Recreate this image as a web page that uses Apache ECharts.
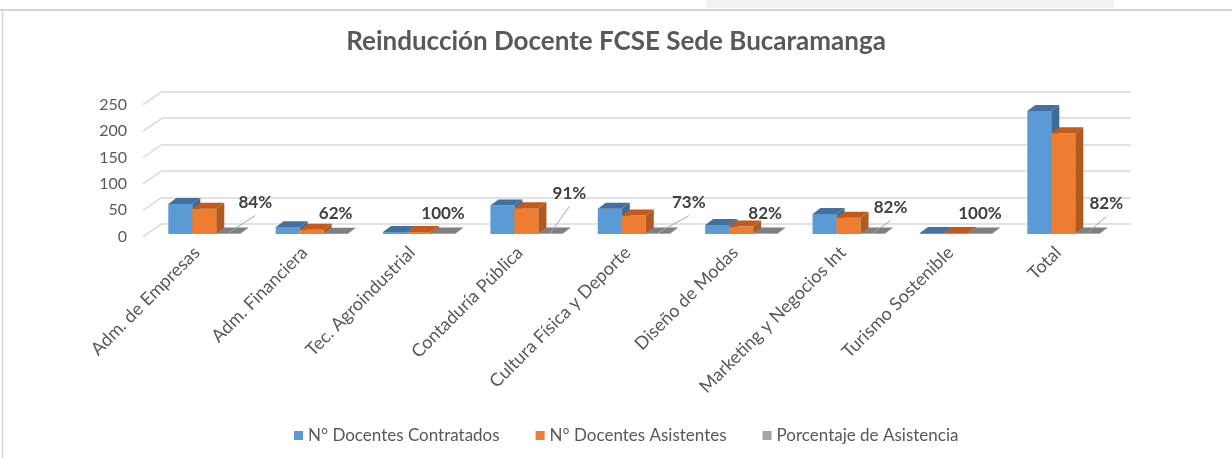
<!DOCTYPE html>
<html>
<head>
<meta charset="utf-8">
<script src="https://cdn.jsdelivr.net/npm/echarts@6/dist/echarts.min.js"></script>
<style>
html,body{margin:0;padding:0;background:#ffffff;}
#chart{width:1232px;height:458px;}
</style>
</head>
<body>
<div id="chart"></div>
<script>
// ---------------- DATA ----------------
const categories = ['Adm. de Empresas','Adm. Financiera','Tec. Agroindustrial','Contaduría Pública','Cultura Física y Deporte','Diseño de Modas','Marketing y Negocios Int','Turismo Sostenible','Total'];
const contratados = [57, 13, 4, 54, 48, 17, 38, 2, 233];
const asistentes  = [48, 8, 4, 49, 35, 14, 31, 2, 191];
const porcentaje  = [0.84, 0.62, 1.00, 0.91, 0.73, 0.82, 0.82, 1.00, 0.82];
const yTicks = [0, 50, 100, 150, 200, 250];
const seriesNames = ['N° Docentes Contratados', 'N° Docentes Asistentes', 'Porcentaje de Asistencia'];

// ---------------- LAYOUT / STYLE ----------------
const pctLabelShift = [[27,-11],[0,0],[0,0],[19,-20],[31,-11],[0,0],[18,-6],[0,0],[19,-10]];
const FONT = 'Lato, "Open Sans", sans-serif';
const TXT = '#595959';
const BAR_FRAC = 0.2235;
const DX = 8, DY = 6;           // bar depth
const FLOOR_DX = 19, FLOOR_DY = 13; // floor depth
const LABEL_GAP = 20;
const palettes = [
  {front:'#5b9bd5', top:'#41719c', side:'#3d6b95'},
  {front:'#ed7d31', top:'#c05a1e', side:'#ae5a21'},
  {front:'#a5a5a5', top:'#7f7f7f', side:'#6f6f6f'}
];

function make3D(sIdx){
  const c = palettes[sIdx];
  return function(params, api){
    const i = api.value(0), v = api.value(1);
    const base = api.coord([i, 0]);
    const top = api.coord([i, v]);
    const band = api.size([1, 0])[0];
    const bw = band * BAR_FRAC;
    const x0 = base[0] + (sIdx - 1.5) * bw;
    const yb = base[1], yt = top[1];
    const children = [
      {type:'rect', shape:{x:x0, y:yt, width:bw, height:Math.max(yb-yt,0)}, style:{fill:c.front}},
      {type:'polygon', shape:{points:[[x0+bw,yt],[x0+bw+DX,yt-DY],[x0+bw+DX,yb-DY],[x0+bw,yb]]}, style:{fill:c.side}},
      {type:'polygon', shape:{points:[[x0,yt],[x0+bw,yt],[x0+bw+DX,yt-DY],[x0+DX,yt-DY]]}, style:{fill:c.top}}
    ];
    if (sIdx === 2) {
      const sh = pctLabelShift[i];
      const cx = x0 + bw/2;
      const lx = cx + sh[0], ly = yt - LABEL_GAP + sh[1];
      if (sh[0] !== 0 || sh[1] !== 0) {
        children.push({type:'line', shape:{x1:cx, y1:yb-1, x2:lx, y2:ly+13}, style:{stroke:'#a6a6a6', lineWidth:1}});
      }
      children.push({type:'text', x:lx, y:ly, style:{text:Math.round(v*100)+'%', font:'bold 17px '+FONT, fill:'#404040', align:'center', verticalAlign:'middle'}});
    }
    return {type:'group', children:children};
  };
}

const chart = echarts.init(document.getElementById('chart'), null, {renderer:'canvas'});

const option = {
  backgroundColor:'#ffffff',
  animation:false,
  title:{
    text:'Reinducción Docente FCSE Sede Bucaramanga',
    left:'center', top:29, padding:0,
    textStyle:{fontFamily:FONT, fontWeight:'bold', fontSize:26, color:TXT}
  },
  legend:{
    data:seriesNames, bottom:9, left:289,
    icon:'rect', itemWidth:9, itemHeight:9, itemGap:36,
    textStyle:{fontFamily:FONT, fontSize:17, color:TXT}
  },
  grid:[
    {left:162, top:91.7, width:969, height:132},     // back plane (gridlines)
    {left:143, top:104.7, width:969, height:132},    // front floor (axis labels)
    {left:150.6, top:102, width:966.4, height:132}   // bars front plane
  ],
  xAxis:[
    {type:'category', gridIndex:0, data:categories, show:false},
    {type:'category', gridIndex:1, data:categories,
     axisLine:{show:false}, axisTick:{show:false},
     axisLabel:{interval:0, rotate:45, margin:13, fontFamily:FONT, fontSize:18, color:TXT}},
    {type:'category', gridIndex:2, data:categories, show:false}
  ],
  yAxis:[
    {type:'value', gridIndex:0, min:0, max:250, interval:50,
     axisLabel:{show:false}, axisLine:{show:false}, axisTick:{show:false},
     splitLine:{show:true, lineStyle:{color:'#d9d9d9', width:1.5}}},
    {type:'value', gridIndex:1, min:0, max:250, interval:50,
     axisLine:{show:false}, axisTick:{show:false}, splitLine:{show:false},
     axisLabel:{margin:16, fontFamily:FONT, fontSize:16, color:TXT}},
    {type:'value', gridIndex:2, min:0, max:250, interval:50, show:false, splitLine:{show:false}}
  ],
  series:[
    {type:'custom', name:'walls', xAxisIndex:0, yAxisIndex:0, silent:true, z:1,
     data:yTicks.map(t => [0, t]),
     renderItem:function(params, api){
       const p = api.coord([0, api.value(1)]);
       const x = params.coordSys.x;
       return {type:'line', shape:{x1:x, y1:p[1], x2:x-FLOOR_DX, y2:p[1]+FLOOR_DY}, style:{stroke:'#d9d9d9', lineWidth:1.5}};
     }},
    {type:'custom', name:seriesNames[0], xAxisIndex:2, yAxisIndex:2, z:3,
     itemStyle:{color:palettes[0].front}, encode:{x:0,y:1},
     data:contratados.map((v,i)=>[i,v]), renderItem:make3D(0)},
    {type:'custom', name:seriesNames[1], xAxisIndex:2, yAxisIndex:2, z:4,
     itemStyle:{color:palettes[1].front}, encode:{x:0,y:1},
     data:asistentes.map((v,i)=>[i,v]), renderItem:make3D(1)},
    {type:'custom', name:seriesNames[2], xAxisIndex:2, yAxisIndex:2, z:5,
     itemStyle:{color:palettes[2].front}, encode:{x:0,y:1},
     data:porcentaje.map((v,i)=>[i,v]), renderItem:make3D(2)}
  ],
  graphic:[
    {type:'rect', shape:{x:706, y:0, width:408, height:8}, style:{fill:'#f2f2f2'}, silent:true},
    {type:'line', shape:{x1:0, y1:10, x2:1232, y2:10}, style:{stroke:'#d4d4d4', lineWidth:2}, silent:true},
    {type:'line', shape:{x1:2.5, y1:10, x2:2.5, y2:458}, style:{stroke:'#d4d4d4', lineWidth:1.5}, silent:true}
  ]
};
chart.setOption(option);
</script>
</body>
</html>
